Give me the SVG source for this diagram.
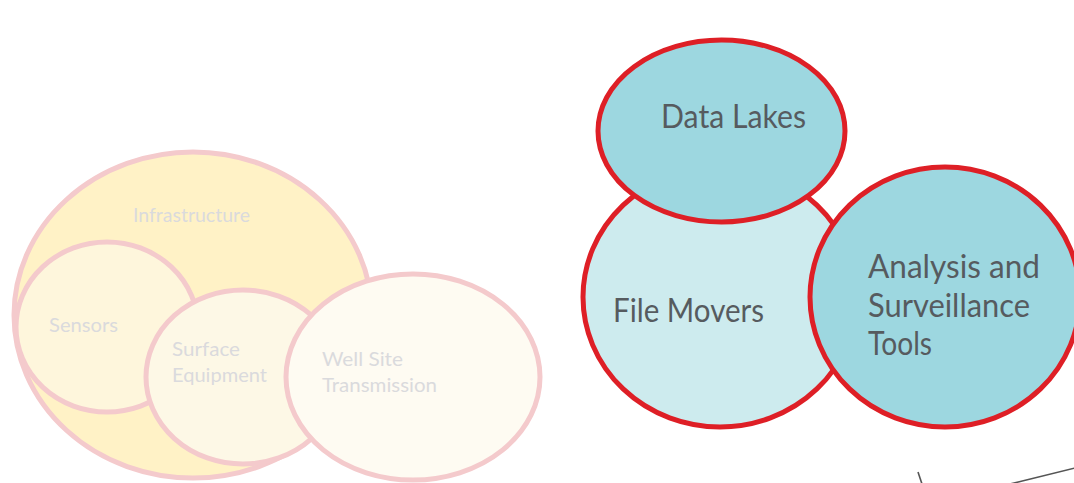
<svg xmlns="http://www.w3.org/2000/svg" width="1074" height="483" viewBox="0 0 1074 483">
<style>
.pk{stroke:#f4cacc;stroke-width:5}
.rd{stroke:#de1f26;stroke-width:5}
.lt{font-family:Lato,"Liberation Sans",sans-serif;font-size:19px;fill:#dadadd}
.dk{font-family:Lato,"Liberation Sans",sans-serif;font-size:33px;fill:#565b5f}
.cn{stroke:#555;stroke-width:1.6;fill:none}
</style>
<rect width="1074" height="483" fill="#ffffff"/>
<g id="infrastructure">
<ellipse class="pk" cx="193" cy="315" rx="179" ry="163" fill="#fff2c6"/>
<text class="lt" x="133" y="222" textLength="117" lengthAdjust="spacingAndGlyphs">Infrastructure</text>
</g>
<g id="sensors">
<ellipse class="pk" cx="107" cy="327" rx="91" ry="85" fill="#fef6dc"/>
<text class="lt" x="49" y="332" textLength="69" lengthAdjust="spacingAndGlyphs">Sensors</text>
</g>
<g id="surface-equipment">
<ellipse class="pk" cx="243" cy="377" rx="97" ry="87" fill="#fdf8e6"/>
<text class="lt" x="172" y="356" textLength="68" lengthAdjust="spacingAndGlyphs">Surface</text>
<text class="lt" x="172" y="382" textLength="95" lengthAdjust="spacingAndGlyphs">Equipment</text>
</g>
<g id="well-site">
<ellipse class="pk" cx="413" cy="377" rx="127" ry="103" fill="#fefbf2"/>
<text class="lt" x="322" y="366" textLength="81" lengthAdjust="spacingAndGlyphs">Well Site</text>
<text class="lt" x="322" y="392" textLength="115" lengthAdjust="spacingAndGlyphs">Transmission</text>
</g>
<g id="file-movers">
<ellipse class="rd" cx="720" cy="297" rx="137" ry="130" fill="#cdebee"/>
<text class="dk" x="613" y="322" textLength="151" lengthAdjust="spacingAndGlyphs">File Movers</text>
</g>
<g id="data-lakes">
<ellipse class="rd" cx="721.5" cy="131" rx="123.5" ry="91" fill="#9dd7e0"/>
<text class="dk" x="661" y="128" textLength="145" lengthAdjust="spacingAndGlyphs">Data Lakes</text>
</g>
<g id="analysis">
<ellipse class="rd" cx="945" cy="297" rx="135" ry="130" fill="#9dd7e0"/>
<text class="dk" x="868" y="278" textLength="172" lengthAdjust="spacingAndGlyphs">Analysis and</text>
<text class="dk" x="868" y="317" textLength="162" lengthAdjust="spacingAndGlyphs">Surveillance</text>
<text class="dk" x="868" y="355" textLength="64" lengthAdjust="spacingAndGlyphs">Tools</text>
</g>
<g id="connectors">
<line class="cn" x1="918" y1="472" x2="922" y2="484"/>
<line class="cn" x1="1010" y1="484" x2="1075" y2="468"/>
</g>
</svg>
